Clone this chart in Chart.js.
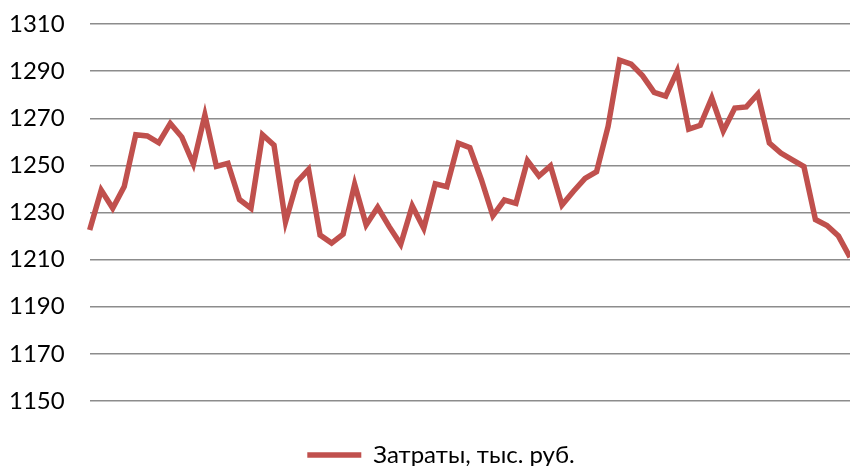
<!DOCTYPE html>
<html>
<head>
<meta charset="utf-8">
<script src="https://cdn.jsdelivr.net/npm/chart.js@4/dist/chart.umd.min.js"></script>
<style>
  html, body { margin: 0; padding: 0; background: #fff; }
  #wrap { width: 850px; height: 466px; }
</style>
</head>
<body>
<div id="wrap"><canvas id="c" width="850" height="466"></canvas></div>
<script>
// Monthly cost series, thousand roubles
const costs = [
  1222.6, 1239.5, 1231.8, 1241, 1263, 1262.5, 1259.6, 1267.8, 1262, 1250.6,
  1271.4, 1249.6, 1250.9, 1235.5, 1231.8, 1263, 1258.6, 1226, 1243, 1248.3,
  1220.4, 1217, 1220.8, 1242, 1224.7, 1232.2, 1224, 1216.5, 1232.8, 1223.3,
  1242.2, 1241, 1259.4, 1257.5, 1244, 1228.6, 1235.3, 1233.9, 1252, 1245.5,
  1249.8, 1233.2, 1239, 1244.5, 1247.3, 1266.5, 1294.7, 1293, 1288, 1281,
  1279.4, 1290, 1265.4, 1267, 1278.6, 1264.6, 1274.3, 1274.8, 1280.3, 1259.5,
  1255.2, 1252.3, 1249.5, 1227, 1224.5, 1220, 1211
];
const periods = costs.map((_, i) => String(i + 1));
const seriesName = 'Затраты, тыс. руб.';
const yMin = 1150, yMax = 1310, yStep = 20;

const red = '#C0504D';
const fontFamily = 'Lato, "Open Sans", sans-serif';

// nudge the legend a little to the right of the canvas centre
const legendShift = {
  id: 'legendShift',
  afterLayout(chart) {
    const lg = chart.legend;
    if (lg) { lg.left += 9; lg.right += 9; }
  }
};

new Chart(document.getElementById('c'), {
  type: 'line',
  data: {
    labels: periods,
    datasets: [{
      label: seriesName,
      data: costs,
      borderColor: red,
      backgroundColor: red,
      borderWidth: 5.5,
      pointRadius: 0,
      tension: 0,
      fill: false
    }]
  },
  options: {
    responsive: false,
    animation: false,
    layout: { padding: { left: 9, right: -5, top: 24, bottom: -11 } },
    scales: {
      x: {
        display: true,
        offset: false,
        border: { display: false },
        grid: { display: false },
        ticks: { display: false },
        // reserve room between the plot and the legend
        afterFit: (scale) => { scale.height = 38; }
      },
      y: {
        min: yMin,
        max: yMax,
        border: { display: false },
        // invisible tick marks give the gap between labels and gridlines
        grid: { color: '#8c8c8c', lineWidth: 1.5, drawTicks: true, tickLength: 25, tickColor: 'rgba(0,0,0,0)' },
        ticks: {
          stepSize: yStep,
          padding: 0,
          color: '#000',
          font: { family: fontFamily, size: 24 },
          callback: (v) => String(v)
        }
      }
    },
    plugins: {
      legend: {
        position: 'bottom',
        labels: {
          usePointStyle: true,
          pointStyle: 'line',
          pointStyleWidth: 54,
          color: '#000',
          font: { family: fontFamily, size: 24 },
          padding: 4
        }
      },
      tooltip: { enabled: false }
    }
  },
  plugins: [legendShift]
});
</script>
</body>
</html>
